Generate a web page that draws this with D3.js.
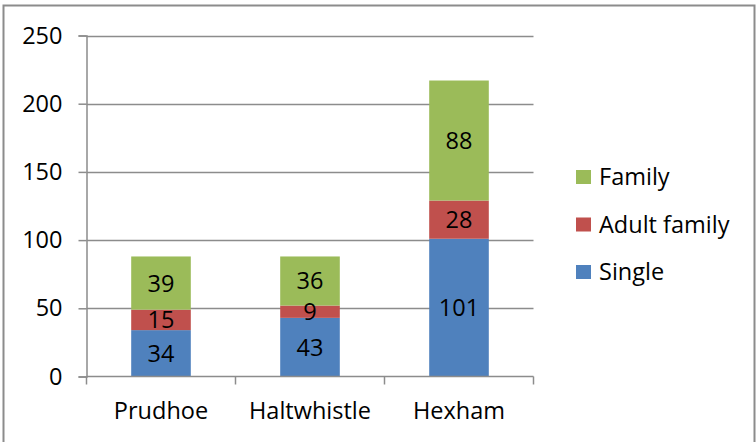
<!DOCTYPE html>
<html><head><meta charset="utf-8">
<script src="https://cdn.jsdelivr.net/npm/d3@7"></script>
<style>body{margin:0;background:#fff}svg{display:block}text{font-family:"Open Sans",sans-serif}</style>
</head><body>
<svg id="c" width="756" height="442"></svg>
<script>
const categories = ["Prudhoe", "Haltwhistle", "Hexham"];
const seriesNames = ["Single", "Adult family", "Family"];
const single = [34, 43, 101];
const adultFamily = [15, 9, 28];
const family = [39, 36, 88];
const yTicks = [0, 50, 100, 150, 200, 250];
const colors = ["#4F81BD", "#C0504D", "#9BBB59"];

const svg = d3.select("#c");
const fs = 23.5;
// outer border
svg.append("path").attr("d", "M3.5,442 L3.5,5.5 L754.5,5.5 L754.5,442")
  .attr("fill", "none").attr("stroke", "#8c8c8c").attr("stroke-width", 2);

const x0 = 86.5, x1 = 533.5, yTop = 35.5, yBot = 376.5;
const x = d3.scaleBand().domain(categories).range([x0, x1]).paddingInner(0.6).paddingOuter(0.3);
const xb = d3.scaleBand().domain(categories).range([x0, x1]);
const y = d3.scaleLinear().domain([0, 250]).range([yBot, yTop]);

// gridlines
svg.append("g").selectAll("line").data(yTicks.filter(d => d > 0)).join("line")
  .attr("x1", x0).attr("x2", x1).attr("y1", d => Math.round(y(d)) + 0.5).attr("y2", d => Math.round(y(d)) + 0.5)
  .attr("stroke", "#8c8c8c").attr("stroke-width", 1.5);

// y axis
const ya = svg.append("g").attr("transform", `translate(${x0},0)`)
  .call(d3.axisLeft(y).tickValues(yTicks).tickSize(8).tickPadding(16));
ya.select(".domain").attr("stroke", "#8c8c8c").attr("stroke-width", 1.5);
ya.selectAll(".tick line").attr("stroke", "#8c8c8c").attr("stroke-width", 1.5);
ya.selectAll(".tick text").attr("font-size", fs).attr("font-family", "Open Sans").attr("fill", "#000");

// stacked data
const rows = categories.map((c, i) => ({cat: c, "Single": single[i], "Adult family": adultFamily[i], "Family": family[i]}));
const stack = d3.stack().keys(seriesNames)(rows);

const g = svg.append("g");
stack.forEach((s, si) => {
  g.selectAll(null).data(s).join("rect")
    .attr("x", d => x(d.data.cat)).attr("width", x.bandwidth())
    .attr("y", d => y(d[1])).attr("height", d => y(d[0]) - y(d[1]))
    .attr("fill", colors[si]);
});
stack.forEach((s, si) => {
  g.selectAll(null).data(s).join("text")
    .attr("x", d => x(d.data.cat) + x.bandwidth() / 2)
    .attr("y", d => (y(d[0]) + y(d[1])) / 2)
    .attr("dy", "0.36em").attr("text-anchor", "middle")
    .attr("font-size", fs).attr("fill", "#000")
    .text(d => d[1] - d[0]);
});

// x axis
const xa = svg.append("g").attr("transform", `translate(0,${yBot})`)
  .call(d3.axisBottom(xb).tickSize(0).tickPadding(26));
xa.select(".domain").attr("stroke", "#8c8c8c").attr("stroke-width", 1.5).attr("d", `M${x0},0H${x1}`);
xa.selectAll(".tick text").attr("font-size", fs).attr("font-family", "Open Sans").attr("fill", "#000");
// category boundary ticks
const bounds = [x0, ...categories.map(c => xb(c) + xb.bandwidth())];
xa.selectAll(".btick").data(bounds).join("line").attr("class", "btick")
  .attr("x1", d => d).attr("x2", d => d).attr("y1", 0).attr("y2", 8)
  .attr("stroke", "#8c8c8c").attr("stroke-width", 1.5);

// legend
const legOrder = ["Family", "Adult family", "Single"];
const lg = svg.append("g").selectAll("g").data(legOrder).join("g")
  .attr("transform", (d, i) => `translate(576,${177 + i * 47.5})`);
lg.append("rect").attr("x", 0).attr("y", -7).attr("width", 15).attr("height", 14)
  .attr("fill", d => colors[seriesNames.indexOf(d)]);
lg.append("text").attr("x", 23).attr("dy", "0.36em").attr("font-size", fs).attr("fill", "#000").text(d => d);
</script>
</body></html>
